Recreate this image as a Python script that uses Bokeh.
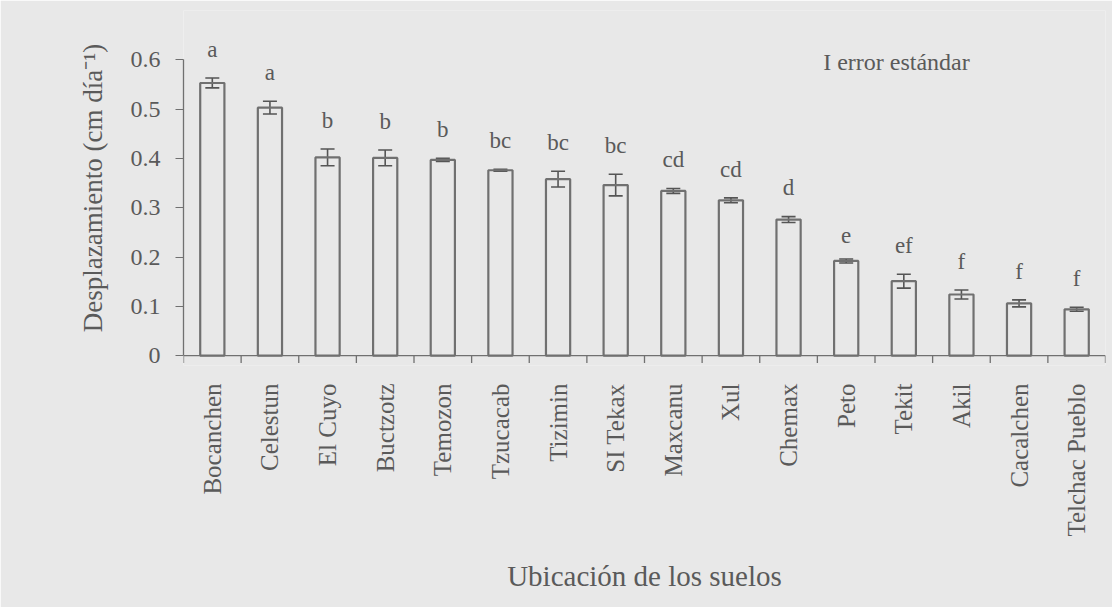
import math
from bokeh.plotting import figure
from bokeh.models import ColumnDataSource, Range1d, FixedTicker, Whisker, TeeHead, Label, Span
from bokeh.core.properties import value
from bokeh.embed import file_html
from bokeh.resources import INLINE

sites = ["Bocanchen", "Celestun", "El Cuyo", "Buctzotz", "Temozon", "Tzucacab",
         "Tizimin", "SI Tekax", "Maxcanu", "Xul", "Chemax", "Peto", "Tekit",
         "Akil", "Cacalchen", "Telchac Pueblo"]
means = [0.553, 0.503, 0.402, 0.401, 0.397, 0.376, 0.358, 0.346, 0.334, 0.315,
         0.276, 0.192, 0.151, 0.124, 0.106, 0.094]
errors = [0.010, 0.013, 0.017, 0.016, 0.003, 0.002, 0.016, 0.022, 0.005, 0.005,
          0.006, 0.004, 0.014, 0.009, 0.007, 0.004]
letters = ["a", "a", "b", "b", "b", "bc", "bc", "bc", "cd", "cd", "d", "e", "ef",
           "f", "f", "f"]
y_ticks = [0, 0.1, 0.2, 0.3, 0.4, 0.5, 0.6]

FONT = "Liberation Serif"
TXT = "#5a5a5a"
LINE = "#707070"
BG = "#e8e8e8"

n = len(sites)
centers = [i + 0.5 for i in range(n)]
src = ColumnDataSource(dict(
    x=centers,
    top=means,
    upper=[m + e for m, e in zip(means, errors)],
    lower=[m - e for m, e in zip(means, errors)],
    ly=[m + e + 0.033 for m, e in zip(means, errors)],
    letter=letters,
))

p = figure(width=1112, height=607, x_range=Range1d(0, n), y_range=Range1d(-0.02, 0.7),
           output_backend="svg", toolbar_location=None,
           min_border_left=183, min_border_right=7, min_border_top=10, min_border_bottom=242)
p.background_fill_color = BG
p.border_fill_color = BG
p.outline_line_color = None
p.xgrid.visible = False
p.ygrid.visible = False

p.vbar(x="x", top="top", bottom=0, width=0.42, fill_color=None,
       line_color=LINE, line_width=2.2, source=src)

p.add_layout(Whisker(source=src, base="x", upper="upper", lower="lower",
                     line_color="#555555", line_width=1.6,
                     upper_head=TeeHead(size=14, line_color="#555555", line_width=1.6),
                     lower_head=TeeHead(size=14, line_color="#555555", line_width=1.6)))

p.text(x="x", y="ly", text="letter", source=src, text_align="center",
       text_baseline="bottom", text_font=value(FONT), text_font_size="23px",
       text_color=TXT)

# x axis baseline and boundary ticks
p.add_layout(Span(location=0, dimension="width", line_color=LINE, line_width=1.3))
bounds = list(range(n + 1))
p.segment(x0=bounds, y0=[0] * len(bounds), x1=bounds, y1=[-0.015] * len(bounds),
          line_color=LINE, line_width=1.3)

# x axis (labels only)
xa = p.xaxis[0]
xa.ticker = FixedTicker(ticks=centers)
xa.major_label_overrides = {c: s for c, s in zip(centers, sites)}
xa.major_label_orientation = math.pi / 2
xa.axis_line_color = None
xa.major_tick_line_color = None
xa.minor_tick_line_color = None
xa.major_label_standoff = 12
xa.major_label_text_font = FONT
xa.major_label_text_font_size = "25px"
xa.major_label_text_color = TXT
xa.axis_label = "Ubicación de los suelos"
xa.axis_label_text_font = FONT
xa.axis_label_text_font_size = "29px"
xa.axis_label_text_font_style = "normal"
xa.axis_label_text_color = TXT
xa.axis_label_standoff = 20

# y axis
ya = p.yaxis[0]
ya.ticker = FixedTicker(ticks=y_ticks)
ya.bounds = (0, 0.6)
ya.major_label_overrides = {0: "0"}
ya.axis_line_color = LINE
ya.axis_line_width = 1.3
ya.major_tick_line_color = LINE
ya.major_tick_out = 8
ya.major_tick_in = 0
ya.minor_tick_line_color = None
ya.major_label_standoff = 15
ya.major_label_text_font = FONT
ya.major_label_text_font_size = "24px"
ya.major_label_text_color = TXT
ya.axis_label = "Desplazamiento (cm día⁻¹)"
ya.axis_label_text_font = FONT
ya.axis_label_text_font_size = "27px"
ya.axis_label_text_font_style = "normal"
ya.axis_label_text_color = TXT
ya.axis_label_standoff = 20

p.add_layout(Label(x=11.1, y=0.596, text="I error estándar", text_font=FONT,
                   text_font_size="24px", text_baseline="middle", text_color=TXT))

open("out.html", "w").write(file_html(p, INLINE))
